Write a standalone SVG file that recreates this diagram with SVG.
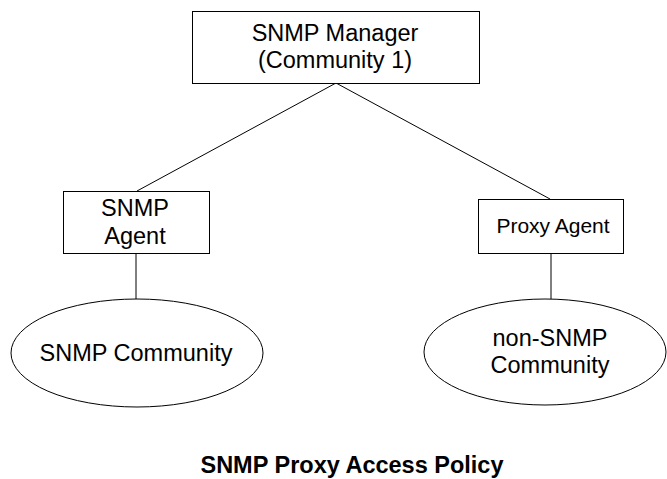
<svg xmlns="http://www.w3.org/2000/svg" width="667" height="479" viewBox="0 0 667 479">
<style>
.box{fill:#fff;stroke:#000;stroke-width:1}
.ell{fill:#fff;stroke:#000;stroke-width:1}
.conn line{stroke:#000;stroke-width:1}
text{font-family:"Liberation Sans",Arial,sans-serif;font-size:23.5px;fill:#000;text-anchor:middle}
.title{font-weight:bold;font-size:23.5px}
</style>
<rect width="667" height="479" fill="#fff"/>
<g id="connectors" class="conn">
<line x1="336" y1="83" x2="137" y2="191"/>
<line x1="336" y1="83" x2="550" y2="199"/>
<line x1="136" y1="253" x2="136" y2="299"/>
<line x1="551" y1="253" x2="551" y2="299"/>
</g>
<g id="manager">
<rect class="box" x="192.5" y="11.5" width="287" height="72"/>
<text x="335" y="41">SNMP Manager</text>
<text x="335" y="68">(Community 1)</text>
</g>
<g id="snmp-agent">
<rect class="box" x="63.5" y="191.5" width="146" height="62"/>
<text x="135" y="216">SNMP</text>
<text x="135" y="244">Agent</text>
</g>
<g id="proxy-agent">
<rect class="box" x="478.5" y="199.5" width="145" height="54"/>
<text x="553" y="233" style="font-size:21px">Proxy Agent</text>
</g>
<g id="snmp-community">
<ellipse class="ell" cx="137" cy="353" rx="126" ry="54"/>
<text x="136" y="361">SNMP Community</text>
</g>
<g id="non-snmp-community">
<ellipse class="ell" cx="545" cy="352" rx="121" ry="53"/>
<text x="550" y="346">non-SNMP</text>
<text x="550" y="373">Community</text>
</g>
<g id="title">
<text class="title" x="352" y="473">SNMP Proxy Access Policy</text>
</g>
</svg>
